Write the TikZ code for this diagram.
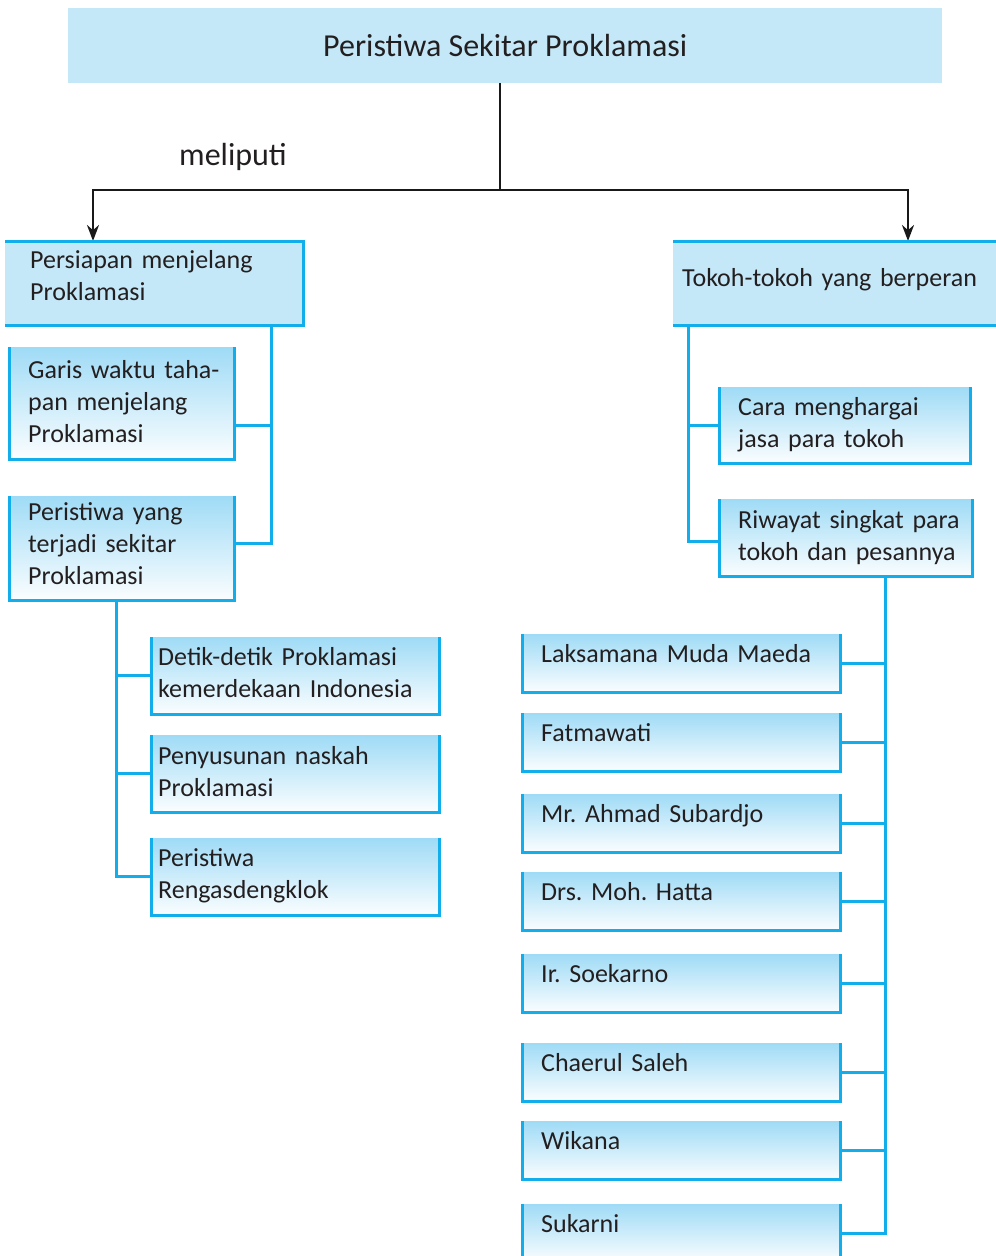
\documentclass[tikz,border=0pt]{standalone}
\usepackage{fontspec}
\setmainfont{Carlito}
\usetikzlibrary{arrows.meta}
\definecolor{birutepi}{HTML}{12ADEB}
\definecolor{birumuda}{HTML}{C4E8F8}
\definecolor{biruatas}{HTML}{9FDBF6}
\definecolor{teks}{HTML}{231F20}
\tikzset{
  isi/.style={anchor=north west, inner sep=0pt, text=teks,
    font=\fontsize{26}{32}\selectfont\frenchspacing,
    execute at begin node={\parindent=0pt\rightskip=0pt plus 1fil\parfillskip=0pt plus 1fil}},
  tepikiri/.style={execute at begin node={\leftskip=#1}},
  kotak/.style={isi, top color=biruatas, bottom color=white!96!biruatas},
  utama/.style={isi, fill=birumuda},
  tepi/.style={birutepi, line width=3pt},
  cabang/.style={birutepi, line width=3pt},
  hitam/.style={black!90, line width=2.5pt},
  panah/.style={hitam, -{Stealth[length=16pt,width=12pt]}},
}
\begin{document}
\begin{tikzpicture}[x=1pt, y=-1pt]
      \useasboundingbox (0,0) rectangle (996,1256);
      % judul dan cabang utama
      \node[fill=birumuda, anchor=north west, minimum width=874pt, minimum height=75pt,
            text=teks, font=\fontsize{32}{38}\selectfont] (judul) at (68,8) {Peristiwa Sekitar Proklamasi};
      \node[text=teks, font=\fontsize{32}{38}\selectfont] (meliputi) at (233,157) {meliputi};
      \node[utama, tepikiri=25pt, text width=298pt, text height=27pt, text depth=57pt] (persiapan) at (5,241)
            {Persiapan menjelang\\Proklamasi};
      \node[utama, tepikiri=9pt, text width=330pt, text height=45pt, text depth=39pt] (tokoh) at (673,241)
            {Tokoh-tokoh yang berperan};
      \coordinate (pusat) at (500,190);
      \draw[hitam] (judul.south -| pusat) -- (pusat);
      \draw[panah] (pusat) -| ([xshift=88pt]persiapan.north west);
      \draw[panah] (pusat) -| ([xshift=235pt]tokoh.north west);
      \draw[tepi] (persiapan.north west) -- (persiapan.north east) -- (persiapan.south east) -- (persiapan.south west);
      \draw[tepi] (tokoh.north west) -- (tokoh.north east)
                  (tokoh.south west) -- (tokoh.south east);

      % sisi kiri
      \node[kotak, tepikiri=19pt, text width=225pt, text height=31pt, text depth=81pt] (garis) at (9,347)
            {Garis waktu taha-\\pan menjelang\\Proklamasi};
      \node[kotak, tepikiri=19pt, text width=225pt, text height=24pt, text depth=80pt] (peristiwa) at (9,496)
            {Peristiwa yang\\terjadi sekitar\\Proklamasi};
      \node[kotak, tepikiri=7pt, text width=288pt, text height=28pt, text depth=49pt] (detik) at (151,637)
            {Detik-detik Proklamasi\\kemerdekaan Indonesia};
      \node[kotak, tepikiri=7pt, text width=288pt, text height=29pt, text depth=48pt] (naskah) at (151,735)
            {Penyusunan naskah\\Proklamasi};
      \node[kotak, tepikiri=7pt, text width=288pt, text height=28pt, text depth=49pt] (rengas) at (151,838)
            {Peristiwa\\Rengasdengklok};
      \coordinate (akar1) at ([xshift=-32pt]persiapan.south east);
      \coordinate (akar2) at ([xshift=107pt]peristiwa.south west);
      \draw[cabang] (akar1) |- ([yshift=57pt]peristiwa.south east);
      \draw[cabang] ([yshift=34pt]garis.south east) -| (akar1);
      \draw[cabang] (akar2) |- (rengas.west);
      \foreach \n in {detik,naskah}
        \draw[cabang] (\n.west) -| (akar2);

      % sisi kanan
      \node[kotak, tepikiri=19pt, text width=251pt, text height=28pt, text depth=48pt] (cara) at (719,387)
            {Cara menghargai\\jasa para tokoh};
      \node[kotak, tepikiri=19pt, text width=253pt, text height=29pt, text depth=48pt] (riwayat) at (719,499)
            {Riwayat singkat para\\tokoh dan pesannya};
      \coordinate (akar3) at ([xshift=15pt]tokoh.south west);
      \coordinate (akar4) at ([xshift=-87pt]riwayat.south east);
      \draw[cabang] (akar3) |- ([yshift=35pt]riwayat.south west);
      \draw[cabang] (cara.west) -| (akar3);
      \foreach \nama/\atas/\isi in {maeda/634/Laksamana Muda Maeda, fatma/713/Fatmawati,
                                   subardjo/794/Mr. Ahmad Subardjo, hatta/872/Drs. Moh. Hatta,
                                   soekarno/954/Ir. Soekarno, chaerul/1043/Chaerul Saleh,
                                   wikana/1121/Wikana, sukarni/1204/Sukarni} {
        \node[kotak, tepikiri=19pt, text width=318pt, text height=28pt, text depth=30pt] (\nama) at (522,\atas) {\isi};
        \draw[tepi] (\nama.north west) |- (\nama.south east) -- (\nama.north east);
        \draw[cabang] (\nama.east) -- (\nama.east -| akar4);
      }
      \draw[cabang] (akar4) |- (sukarni.east);

      \foreach \n in {garis,peristiwa,detik,naskah,rengas,cara,riwayat}
        \draw[tepi] (\n.north west) |- (\n.south east) -- (\n.north east);
\end{tikzpicture}
\end{document}
